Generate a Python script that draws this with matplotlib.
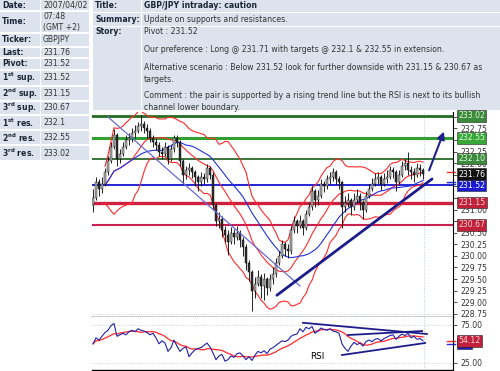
import numpy as np
import pandas as pd
import matplotlib
matplotlib.use('Agg')
import matplotlib.pyplot as plt
from matplotlib.patches import Rectangle
from matplotlib.ticker import FormatStrFormatter
import matplotlib.transforms as mtransforms

# ---- data ----
first_open = 231.10
closes = [231.25, 231.60, 231.45, 231.55, 231.80, 232.05, 232.35, 232.60, 232.10, 232.20,
          232.35, 232.50, 232.55, 232.65, 232.70, 232.80, 232.85, 232.75, 232.70, 232.55,
          232.45, 232.40, 232.25, 232.20, 232.35, 232.10, 232.30, 232.55, 232.45, 232.05,
          231.75, 231.85, 231.90, 231.80, 231.70, 231.60, 231.70, 231.65, 231.90, 231.75,
          231.10, 230.75, 230.80, 230.55, 230.45, 230.30, 230.50, 230.40, 230.50, 230.35,
          230.20, 229.85, 229.65, 229.25, 229.40, 229.55, 229.35, 229.50, 229.30, 229.50,
          229.60, 229.85, 230.00, 230.25, 230.15, 230.10, 230.55, 230.75, 230.65, 230.75,
          230.60, 230.90, 231.05, 231.40, 231.20, 231.30, 231.55, 231.50, 231.65, 231.70,
          231.80, 231.65, 231.60, 231.05, 231.15, 231.20, 231.05, 231.20, 231.30, 231.15,
          231.00, 231.30, 231.45, 231.55, 231.65, 231.70, 231.55, 231.65, 231.70, 231.85,
          231.80, 231.60, 231.75, 231.95, 232.00, 231.85, 231.80, 231.75, 231.90, 231.85,
          231.76]
highs = [231.45, 231.70, 231.65, 231.70, 231.90, 232.15, 232.45, 232.74, 232.65, 232.30,
         232.45, 232.60, 232.65, 232.75, 232.82, 232.90, 233.04, 232.92, 232.85, 232.75,
         232.62, 232.55, 232.45, 232.35, 232.45, 232.40, 232.40, 232.62, 232.60, 232.50,
         232.10, 231.95, 232.00, 231.95, 231.85, 231.75, 231.80, 231.78, 231.98, 231.95,
         231.80, 231.15, 230.95, 230.85, 230.65, 230.55, 230.62, 230.58, 230.65, 230.55,
         230.40, 230.25, 229.90, 229.70, 229.55, 229.70, 229.60, 229.62, 229.55, 229.60,
         229.75, 229.95, 230.10, 230.35, 230.30, 230.25, 230.65, 230.85, 230.80, 230.88,
         230.80, 231.00, 231.15, 231.50, 231.45, 231.42, 231.65, 231.62, 231.75, 231.82,
         231.90, 231.85, 231.72, 231.62, 231.30, 231.35, 231.25, 231.35, 231.45, 231.35,
         231.20, 231.40, 231.55, 231.68, 231.78, 231.82, 231.75, 231.78, 231.85, 231.95,
         231.92, 231.85, 231.85, 232.05, 232.10, 232.24, 231.95, 231.90, 232.00, 231.98,
         231.90]
lows = [230.95, 231.20, 231.30, 231.35, 231.50, 231.75, 232.00, 232.30, 231.95, 232.00,
        232.15, 232.30, 232.40, 232.45, 232.55, 232.65, 232.70, 232.65, 232.55, 232.45,
        232.35, 232.28, 232.15, 232.10, 232.15, 231.98, 232.05, 232.25, 232.35, 231.95,
        231.55, 231.65, 231.75, 231.68, 231.50, 231.40, 231.50, 231.55, 231.60, 231.65,
        231.00, 230.65, 230.60, 230.40, 230.30, 230.02, 230.25, 230.25, 230.35, 230.20,
        230.00, 229.70, 229.45, 228.80, 229.10, 229.35, 229.10, 229.05, 229.15, 229.25,
        229.40, 229.55, 229.80, 229.95, 230.00, 229.95, 230.05, 230.50, 230.50, 230.60,
        230.45, 230.55, 230.85, 231.00, 231.05, 231.10, 231.25, 231.38, 231.45, 231.55,
        231.62, 231.55, 231.45, 230.60, 230.95, 231.05, 230.88, 231.00, 231.15, 231.00,
        230.80, 230.95, 231.25, 231.40, 231.50, 231.55, 231.42, 231.50, 231.58, 231.65,
        231.68, 231.40, 231.55, 231.70, 231.85, 231.75, 231.65, 231.60, 231.70, 231.72,
        231.65]
rsi = [50, 58, 55, 60, 65, 68, 74, 77, 60, 62, 64, 62, 66, 68, 66, 70, 68, 67, 65, 62,
       64, 58, 50, 54, 51, 40, 45, 55, 47, 40, 44, 46, 33, 38, 42, 44, 45, 48, 51, 46,
       38, 29, 34, 36, 27, 29, 34, 32, 37, 38, 34, 29, 33, 28, 35, 40, 38, 41, 37, 43,
       45, 48, 51, 54, 53, 55, 60, 62, 63, 70, 66, 72, 70, 73, 64, 67, 71, 69, 68, 70,
       67, 66, 64, 50, 44, 40, 47, 52, 49, 51, 47, 53, 55, 53, 56, 57, 54, 57, 59, 61,
       62, 56, 60, 63, 61, 64, 58, 60, 56, 57, 54.12]

levels = [233.02, 232.55, 232.10, 231.52, 231.15, 230.67]
level_colors = ['#226e22', '#30a030', '#2a6a2a', '#1414d0', '#d02040', '#c82050']
level_widths = [2.0, 2.2, 1.3, 1.3, 2.4, 1.5]

tag_values = [233.02, 232.55, 232.10, 231.76, 231.52, 231.15, 230.67]
tag_fill = ['#3a8a3a', '#38a838', '#3a8a3a', '#111111', '#1a1ad0', '#c0203a', '#c0203a']
tag_text = ['#e0f5e0', '#e0f5e0', '#e0f5e0', 'white', 'white', '#f5d8d8', '#f5d8d8']

price_ticks = [228.75, 229.00, 229.25, 229.50, 229.75, 230.00, 230.25, 230.50, 230.75,
               231.00, 231.25, 231.50, 231.75, 232.00, 232.25, 232.50, 232.75, 233.00]
# tick labels that sit under a price tag in the original
covered_ticks = [230.75, 231.25, 231.50, 231.75, 232.50, 233.00]

# trend lines: (bar0, value0, bar1, value1)
down_line = (5, 233.0, 69, 229.35)
up_line = (61.3, 229.15, 113, 231.66)
arrow_line = (111.7, 231.79, 117.3, 232.74)
rsi_lines = [(70, 77.9, 111.3, 63.1), (85, 61.7, 109.7, 67.0), (83, 35.2, 110.7, 51.1)]

left_labels = ['Date:', 'Time:', 'Ticker:', 'Last:', 'Pivot:',
               r'1$^{\mathbf{st}}$ sup.', r'2$^{\mathbf{nd}}$ sup.', r'3$^{\mathbf{rd}}$ sup.',
               r'1$^{\mathbf{st}}$ res.', r'2$^{\mathbf{nd}}$ res.', r'3$^{\mathbf{rd}}$ res.']
left_values = ['2007/04/02', '07:48\n(GMT +2)', 'GBPJPY', '231.76', '231.52',
               '231.52', '231.15', '230.67', '232.1', '232.55', '233.02']
row_edges = [0, 11, 33, 47, 58, 70, 86, 101, 115, 130, 145, 161]

title = 'GBP/JPY intraday: caution'
summary = 'Update on supports and resistances.'
story = ['Pivot : 231.52',
         'Our preference : Long @ 231.71 with targets @ 232.1 & 232.55 in extension.',
         'Alternative scenario : Below 231.52 look for further downside with 231.15 & 230.67 as',
         'targets.',
         'Comment : the pair is supported by a rising trend line but the RSI is next to its bullish',
         'channel lower boundary.']
story_y = [32, 50, 68, 79, 96, 107]

# ---- figure ----
W, H = 500, 371
BG = '#dce3ec'
LAB = '#1a2638'
VAL = '#333333'
FS = 5.6

fig = plt.figure(figsize=(5, 3.71), dpi=100)


def cell(x0, y0, x1, y1):
    fig.add_artist(Rectangle((x0 / W, 1 - y1 / H), (x1 - x0) / W, (y1 - y0) / H,
                             transform=fig.transFigure, facecolor=BG, edgecolor='none', zorder=0))


def ftext(x, y, s, **kw):
    fig.text(x / W, 1 - y / H, s, fontsize=kw.pop('fontsize', FS), va=kw.pop('va', 'center'), **kw)


# left info table
for k in range(len(left_labels)):
    y0, y1 = row_edges[k], row_edges[k + 1]
    cell(0, y0 + (1 if k else 0), 40, y1 - 1)
    cell(41, y0 + (1 if k else 0), 89, y1 - 1)
    yc = (y0 + y1) / 2
    ftext(2, yc, left_labels[k], color=LAB, fontweight='bold')
    ftext(43, yc, left_values[k], color=VAL, linespacing=1.15)

# top story block
cell(93, 0, 141, 12)
cell(142, 0, 500, 12)
cell(93, 13, 141, 26)
cell(142, 13, 500, 26)
cell(93, 27, 141, 110)
cell(142, 27, 500, 110)
ftext(95, 6, 'Title:', color=LAB, fontweight='bold')
ftext(144, 6, title, color=LAB, fontweight='bold')
ftext(95, 19.5, 'Summary:', color=LAB, fontweight='bold')
ftext(144, 19.5, summary, color=VAL)
ftext(95, 32, 'Story:', color=LAB, fontweight='bold')
for s, y in zip(story, story_y):
    ftext(144, y, s, color=VAL)

# ---- price panel ----
axp = fig.add_axes([92 / W, 1 - 317 / H, 361 / W, 205 / H])
axr = fig.add_axes([92 / W, 1 - 370 / H, 361 / W, 53 / H])

n = len(closes)
x = np.arange(n)
opens = np.array([first_open] + closes[:-1])
c = np.array(closes)
s_close = pd.Series(closes)
mid = s_close.rolling(14, min_periods=5).mean()
sd = s_close.rolling(14, min_periods=5).std()
ma_blue = s_close.rolling(24, min_periods=5).mean()

for lv, col, lw in zip(levels, level_colors, level_widths):
    axp.axhline(lv, color=col, lw=lw, zorder=1)
axp.axhline(228.75, color='#b8cde0', lw=0.6, ls=':', zorder=0)
axp.axvline(110.3, color='#b8cde0', lw=0.7, ls=':', zorder=0)

axp.plot(x, mid + 2 * sd, color='#ff2a2a', lw=0.8, zorder=3)
axp.plot(x, mid - 2 * sd, color='#ff2a2a', lw=0.8, zorder=3)
axp.plot(x, mid, color='#ff2a2a', lw=0.8, zorder=3)
axp.plot(x, ma_blue, color='#2030e0', lw=0.8, zorder=3)

axp.vlines(x, lows, highs, color='black', lw=0.6, zorder=4)
up = c >= opens
axp.bar(x, np.abs(c - opens), bottom=np.minimum(c, opens), width=0.7,
        color=np.where(up, '#b4b4b4', '#303030'), edgecolor='black', linewidth=0.3, zorder=5)

axp.plot(down_line[::2], down_line[1::2], color='#6a6ad0', lw=0.9, zorder=6)
axp.plot(up_line[::2], up_line[1::2], color='#1c1c8a', lw=2.0, zorder=6, solid_capstyle='round')
axp.annotate('', xy=(arrow_line[2], arrow_line[3]), xytext=(arrow_line[0], arrow_line[1]),
             arrowprops=dict(arrowstyle='-|>', color='#22228c', lw=1.5, mutation_scale=11),
             annotation_clip=False, zorder=7)

axp.set_xlim(-0.33, 120)
axp.set_ylim(228.68, 233.106)
axp.yaxis.tick_right()
axp.set_yticks(price_ticks,
               labels=['' if t in covered_ticks else '%.2f' % t for t in price_ticks])
axp.set_xticks([])

trp = mtransforms.blended_transform_factory(axp.transAxes, axp.transData)
for v, fc, tc in zip(tag_values, tag_fill, tag_text):
    axp.text(1.0139, v, '%.2f' % v, transform=trp, fontsize=FS, color=tc, va='center', ha='left',
             bbox=dict(boxstyle='square,pad=0.18', fc=fc, ec='#222222', lw=0.4),
             clip_on=False, zorder=10)
axp.plot([0.983, 1.006], [231.8, 231.8], transform=trp, color='#ff2a2a', lw=1, clip_on=False)
axp.plot([0.983, 1.006], [231.56, 231.56], transform=trp, color='#2030e0', lw=1, clip_on=False)
axp.plot([0.983, 1.006], [231.6, 231.6], transform=trp, color='#2030e0', lw=1, clip_on=False)

# ---- RSI panel ----
s_rsi = pd.Series(rsi)
axr.axhline(75, color='#b8cde0', lw=0.6, ls=':', zorder=0)
axr.axhline(25, color='#b8cde0', lw=0.6, ls=':', zorder=0)
axr.axvline(110.3, color='#b8cde0', lw=0.7, ls=':', zorder=0)
axr.plot(x, s_rsi.rolling(9, min_periods=1).mean(), color='#ff2a2a', lw=0.9)
axr.plot(x, rsi, color='#2020a8', lw=0.8)
for l in rsi_lines:
    axr.plot(l[::2], l[1::2], color='#1c1c8a', lw=1.3)
axr.text(74.7, 32.6, 'RSI', fontsize=6.3, color='black', ha='center', va='center')

axr.set_xlim(-0.33, 120)
axr.set_ylim(15.3, 85.6)
axr.yaxis.tick_right()
axr.set_yticks([25, 75])
axr.yaxis.set_major_formatter(FormatStrFormatter('%.2f'))
axr.set_xticks([])

trr = mtransforms.blended_transform_factory(axr.transAxes, axr.transData)
axr.text(1.0139, 50.5, '     ', transform=trr, fontsize=FS, va='center', ha='left',
         bbox=dict(boxstyle='square,pad=0.18', fc='#1a1ad0', ec='#222222', lw=0.4),
         clip_on=False, zorder=9)
axr.text(1.0139, 54.12, '54.12', transform=trr, fontsize=FS, color='#f5d8d8', va='center', ha='left',
         bbox=dict(boxstyle='square,pad=0.18', fc='#c0203a', ec='#222222', lw=0.4),
         clip_on=False, zorder=10)
axr.plot([0.983, 1.006], [54.12, 54.12], transform=trr, color='#ff2a2a', lw=1, clip_on=False)
axr.plot([0.983, 1.006], [50.0, 50.0], transform=trr, color='#2030e0', lw=1, clip_on=False)

for ax in (axp, axr):
    ax.spines['left'].set_visible(False)
    ax.spines['top'].set_visible(False)
    ax.spines['right'].set_linewidth(0.8)
    ax.spines['bottom'].set_linewidth(1.0)
    ax.tick_params(axis='y', labelsize=FS, colors='#333333', length=3, width=0.6, pad=2)
    ax.set_facecolor('white')

fig.savefig('out.png', dpi=100)
